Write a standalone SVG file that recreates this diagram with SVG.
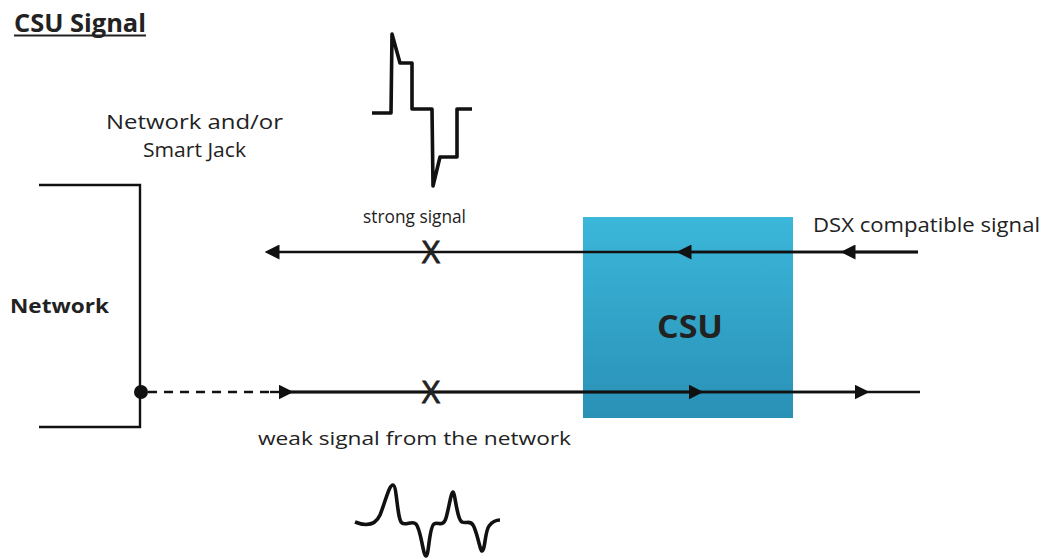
<svg xmlns="http://www.w3.org/2000/svg" width="1048" height="559" viewBox="0 0 1048 559">
<defs>
<linearGradient id="csuGrad" x1="0" y1="0" x2="0" y2="1">
<stop offset="0" stop-color="#3bb7da"/>
<stop offset="1" stop-color="#2a90b6"/>
</linearGradient>
<marker id="arr" viewBox="0 0 10 10" refX="5" refY="5" markerWidth="15" markerHeight="15" markerUnits="userSpaceOnUse" orient="auto">
<path d="M0,0 L10,5 L0,10 Z" fill="#111"/>
</marker>
<style>
text{font-family:"Open Sans","Liberation Sans",sans-serif;fill:#222}
.b{font-weight:bold}
.x{stroke:#222;stroke-width:0.9}
.ln{stroke:#111;stroke-width:2.4;fill:none}
.wave{stroke:#111;stroke-width:3.6;fill:none;stroke-linejoin:round}
</style>
</defs>
<rect width="1048" height="559" fill="#fff"/>
<g id="title">
<text x="14" y="32" class="b" font-size="25" textLength="132" lengthAdjust="spacingAndGlyphs">CSU Signal</text>
<line x1="14" y1="35.5" x2="146" y2="35.5" stroke="#222" stroke-width="2"/>
</g>
<g id="network">
<path class="ln" d="M39,185 H140 V427 H39"/>
<text x="10" y="313" class="b" font-size="20" textLength="99" lengthAdjust="spacingAndGlyphs">Network</text>
<circle cx="141" cy="392" r="7" fill="#111"/>
</g>
<g id="smartjack-label">
<text x="106" y="129" font-size="20" textLength="177" lengthAdjust="spacingAndGlyphs">Network and/or</text>
<text x="143" y="157" font-size="20" textLength="103" lengthAdjust="spacingAndGlyphs">Smart Jack</text>
</g>
<g id="csu">
<rect x="583" y="217" width="210" height="201" fill="url(#csuGrad)"/>
<text x="690" y="338" class="b" font-size="32" text-anchor="middle" textLength="66" lengthAdjust="spacingAndGlyphs">CSU</text>
</g>
<g id="connectors">
<line class="ln" x1="918" y1="252" x2="272" y2="252" marker-end="url(#arr)"/>
<line class="ln" x1="918" y1="252" x2="848" y2="252" marker-end="url(#arr)"/>
<line class="ln" x1="918" y1="252" x2="684" y2="252" marker-end="url(#arr)"/>
<line class="ln" x1="148" y1="392" x2="270" y2="392" stroke-dasharray="9,7"/>
<line class="ln" x1="270" y1="392" x2="286" y2="392" marker-end="url(#arr)"/>
<line class="ln" x1="280" y1="392" x2="920" y2="392"/>
<line class="ln" x1="280" y1="392" x2="696" y2="392" marker-end="url(#arr)"/>
<line class="ln" x1="280" y1="392" x2="862" y2="392" marker-end="url(#arr)"/>
</g>
<g id="marks">
<text x="431" y="263" font-size="31" text-anchor="middle" class="x">X</text>
<text x="431" y="403" font-size="31" text-anchor="middle" class="x">X</text>
</g>
<g id="strong-signal">
<path class="wave" d="M372,113 H391 L392,34 L400,63 H412 V109 H432 L433,186 L440,157 H457 V109 H472"/>
<text x="363" y="223" font-size="19" textLength="103" lengthAdjust="spacingAndGlyphs">strong signal</text>
</g>
<g id="dsx-label">
<text x="813" y="232" font-size="20" textLength="227" lengthAdjust="spacingAndGlyphs">DSX compatible signal</text>
</g>
<g id="weak-signal">
<text x="258" y="445" font-size="19" textLength="313" lengthAdjust="spacingAndGlyphs">weak signal from the network</text>
<path class="wave" d="M355,522 C365,526 375,526 380,515 C386,500 389,485 393,485 C397,485 397,520 402,523 C406,526 412,520 416,524 C421,529 423,556 426,556 C429,556 429,527 434,524 C438,521 443,528 446,518 C449,508 451,492 453,492 C455,492 457,520 462,522 C466,524 470,520 473,525 C477,531 480,551 482,551 C485,551 485,531 489,526 C492,522 496,520 500,520"/>
</g>
</svg>
